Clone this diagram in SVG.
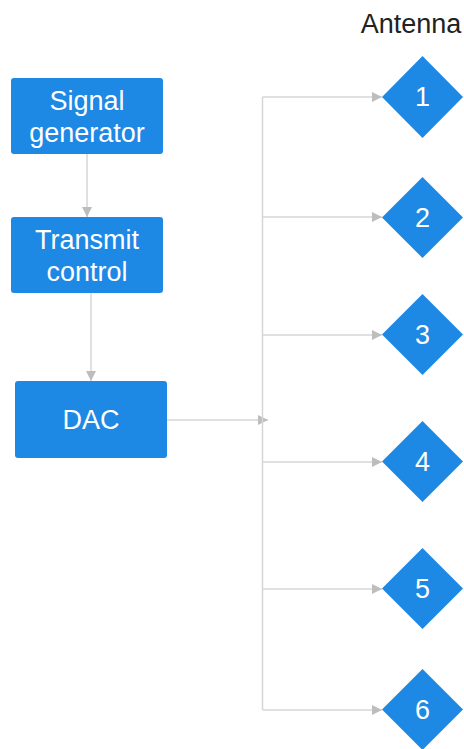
<svg xmlns="http://www.w3.org/2000/svg" width="464" height="749" viewBox="0 0 464 749">
  <defs>
    <marker id="arrow" markerWidth="10" markerHeight="10" refX="10" refY="5" orient="auto" markerUnits="userSpaceOnUse">
      <path d="M0,0 L10,5 L0,10 Z" fill="#bdbdbd"/>
    </marker>
    <style>
      .box { fill: #1e88e5; }
      .lbl { font-family: "Liberation Sans", Arial, sans-serif; font-size: 27px; fill: #ffffff; text-anchor: middle; }
      .wire { fill: none; stroke: #d6d6d6; stroke-width: 1.5; }
      .title { font-family: "Liberation Sans", Arial, sans-serif; font-size: 27px; fill: #222222; text-anchor: middle; }
    </style>
  </defs>
  <rect width="464" height="749" fill="#ffffff"/>

  <text class="title" x="411" y="33">Antenna</text>

  <!-- connectors -->
  <g id="connectors">
    <path class="wire" d="M87,154 V217" marker-end="url(#arrow)"/>
    <path class="wire" d="M91,293 V381" marker-end="url(#arrow)"/>
    <path class="wire" d="M167,420 H268" marker-end="url(#arrow)"/>
    <path class="wire" d="M262.5,97 V710"/>
    <path class="wire" d="M262.5,97 H382" marker-end="url(#arrow)"/>
    <path class="wire" d="M262.5,217 H382" marker-end="url(#arrow)"/>
    <path class="wire" d="M262.5,335 H382" marker-end="url(#arrow)"/>
    <path class="wire" d="M262.5,462 H382" marker-end="url(#arrow)"/>
    <path class="wire" d="M262.5,589 H382" marker-end="url(#arrow)"/>
    <path class="wire" d="M262.5,710 H382" marker-end="url(#arrow)"/>
  </g>

  <g id="signal-generator">
    <rect class="box" x="11" y="78" width="152" height="76" rx="3"/>
    <text class="lbl" x="87" y="110">Signal</text>
    <text class="lbl" x="87" y="142">generator</text>
  </g>
  <g id="transmit-control">
    <rect class="box" x="11" y="217" width="152" height="76" rx="3"/>
    <text class="lbl" x="87" y="249">Transmit</text>
    <text class="lbl" x="87" y="281">control</text>
  </g>
  <g id="dac">
    <rect class="box" x="15" y="381" width="152" height="77" rx="3"/>
    <text class="lbl" x="91" y="429">DAC</text>
  </g>

  <g id="antenna-1">
    <path class="box" d="M422.5,56 L463,97 L422.5,138 L382,97 Z"/>
    <text class="lbl" x="422.5" y="106">1</text>
  </g>
  <g id="antenna-2">
    <path class="box" d="M422.5,177 L463,217.5 L422.5,258 L382,217.5 Z"/>
    <text class="lbl" x="422.5" y="226.5">2</text>
  </g>
  <g id="antenna-3">
    <path class="box" d="M422.5,294 L463,334.5 L422.5,375 L382,334.5 Z"/>
    <text class="lbl" x="422.5" y="343.5">3</text>
  </g>
  <g id="antenna-4">
    <path class="box" d="M422.5,421 L463,461.5 L422.5,502 L382,461.5 Z"/>
    <text class="lbl" x="422.5" y="470.5">4</text>
  </g>
  <g id="antenna-5">
    <path class="box" d="M422.5,548 L463,588.5 L422.5,629 L382,588.5 Z"/>
    <text class="lbl" x="422.5" y="597.5">5</text>
  </g>
  <g id="antenna-6">
    <path class="box" d="M422.5,669 L463,709.5 L422.5,750 L382,709.5 Z"/>
    <text class="lbl" x="422.5" y="718.5">6</text>
  </g>
</svg>
